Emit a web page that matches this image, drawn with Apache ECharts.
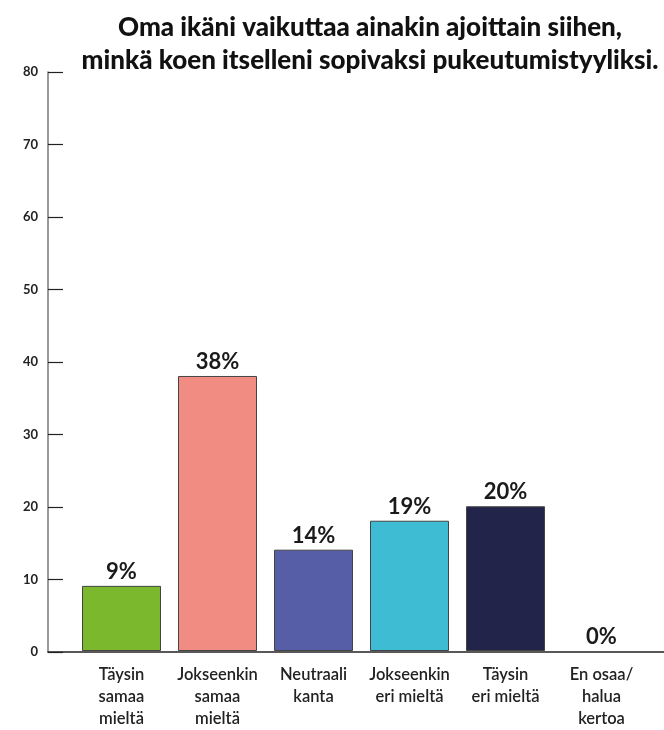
<!DOCTYPE html>
<html>
<head>
<meta charset="utf-8">
<script src="https://cdn.jsdelivr.net/npm/echarts@6/dist/echarts.min.js"></script>
<style>
  html, body { margin: 0; padding: 0; background: #fff; }
  #chart { width: 664px; height: 730px; }
</style>
</head>
<body>
<div id="chart"></div>
<script>
// vastausvaihtoehdot ja osuudet (%)
var categories = ['Täysin\nsamaa\nmieltä', 'Jokseenkin\nsamaa\nmieltä', 'Neutraali\nkanta', 'Jokseenkin\neri mieltä', 'Täysin\neri mieltä', 'En osaa/\nhalua\nkertoa'];
var values = [9, 38, 14, 18, 20, 0];          // pylväiden korkeus kuvasta luettuna
var valueLabels = ['9%', '38%', '14%', '19%', '20%', '0%'];
var barColors = ['#7bb82d', '#f08c82', '#575ea8', '#3ebcd3', '#22244a', '#22244a'];
var yTicks = [0, 10, 20, 30, 40, 50, 60, 70, 80];

var myChart = echarts.init(document.getElementById('chart'));
var font = 'Lato, "Noto Sans", sans-serif';

var option = {
    animation: false,
    title: {
        text: 'Oma ikäni vaikuttaa ainakin ajoittain siihen,\nminkä koen itselleni sopivaksi pukeutumistyyliksi.',
        left: 365,
        textAlign: 'center',
        top: 6,
        textStyle: {
            fontFamily: font,
            fontWeight: 900,
            fontSize: 26,
            lineHeight: 33,
            color: '#111'
        }
    },
    grid: [
        { left: 48, right: 0, top: 72, bottom: 78 },
        { left: 73.5, right: 14.5, top: 72, bottom: 78 }
    ],
    xAxis: [
        {
            type: 'value',
            gridIndex: 0,
            min: 0,
            max: 1,
            axisLine: { show: true, onZero: false, lineStyle: { color: '#222', width: 1.5 } },
            axisTick: { show: false },
            axisLabel: { show: false },
            splitLine: { show: false }
        },
        {
            type: 'category',
            gridIndex: 1,
            data: categories,
            axisLine: { show: false },
            axisTick: { show: false },
            axisLabel: {
                margin: 13,
                fontFamily: font,
                fontSize: 16.5,
                fontWeight: 600,
                lineHeight: 22,
                color: '#222',
                interval: 0
            }
        }
    ],
    yAxis: [
        {
            type: 'value',
            gridIndex: 0,
            min: yTicks[0],
            max: yTicks[yTicks.length - 1],
            interval: 10,
            axisLine: { show: true, lineStyle: { color: '#777', width: 1.5 } },
            axisTick: { show: true, inside: true, length: 15, lineStyle: { color: '#222', width: 1.2 } },
            axisLabel: {
                margin: 10,
                fontFamily: font,
                fontSize: 13,
                fontWeight: 'bold',
                color: '#222'
            },
            splitLine: { show: false }
        },
        {
            type: 'value',
            gridIndex: 1,
            min: 0,
            max: 80,
            show: false
        }
    ],
    series: [
        {
            type: 'bar',
            xAxisIndex: 1,
            yAxisIndex: 1,
            barWidth: 79,
            data: values.map(function (v, i) {
                return {
                    value: v,
                    itemStyle: { color: barColors[i], borderWidth: v > 0 ? 1 : 0 }
                };
            }),
            itemStyle: {
                borderColor: '#444',
                borderWidth: 1
            },
            label: {
                show: true,
                position: 'top',
                distance: 3,
                formatter: function (p) { return valueLabels[p.dataIndex]; },
                fontFamily: font,
                fontSize: 22,
                fontWeight: 'bold',
                color: '#1a1a1a'
            }
        }
    ]
};
myChart.setOption(option);
</script>
</body>
</html>
